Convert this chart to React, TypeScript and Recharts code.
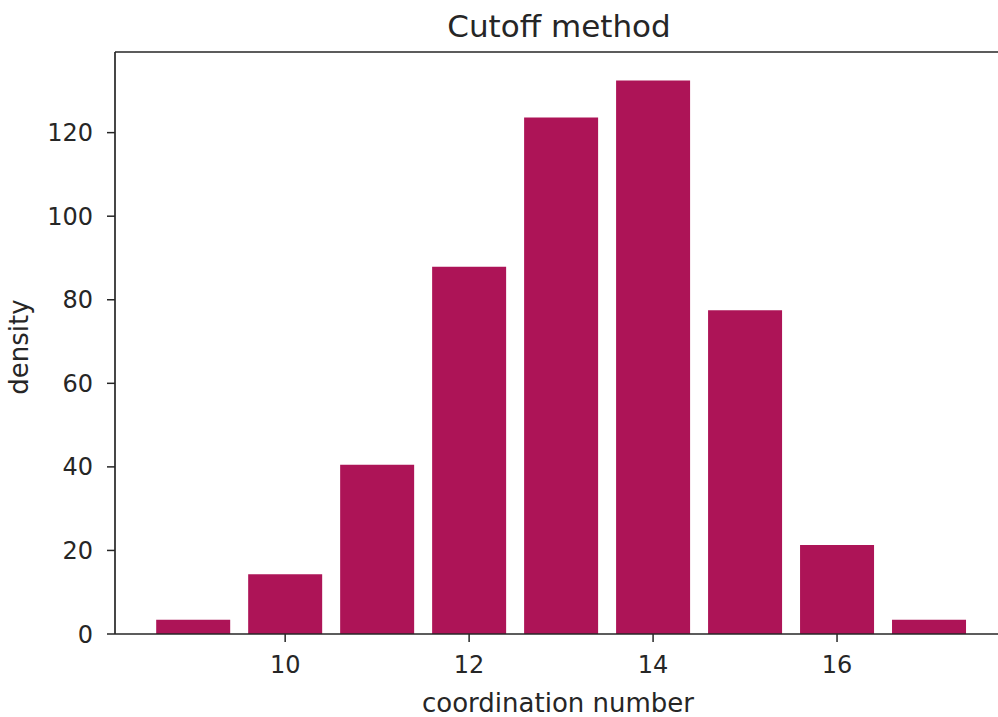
import { BarChart, Bar, XAxis, YAxis, ReferenceLine } from "recharts";

const coordination = [9, 10, 11, 12, 13, 14, 15, 16, 17];
const density = [3.4, 14.3, 40.5, 87.9, 123.6, 132.5, 77.5, 21.3, 3.4];
const xTicks = [10, 12, 14, 16];
const yTicks = [0, 20, 40, 60, 80, 100, 120];

const data = coordination.map((c, i) => ({ cn: c, density: density[i] }));

const FONT = "'DejaVu Sans', sans-serif";
const INK = "#262626";
const BAR = "#AD1457";
const Y_MAX = 139.3;

const App = () => {
  return (
    <div style={{ position: "fixed", top: 0, left: 0, width: 998, height: 717, background: "#fff" }}>
      <BarChart
        width={998}
        height={717}
        data={data}
        margin={{ top: 52, right: 0, left: 0, bottom: 0 }}
        style={{ fontFamily: FONT }}
      >
        <XAxis
          dataKey="cn"
          type="number"
          domain={[8.15, 17.75]}
          ticks={xTicks}
          allowDataOverflow
          height={83}
          stroke={INK}
          axisLine={{ stroke: INK, strokeWidth: 1.7 }}
          tickLine={{ stroke: INK, strokeWidth: 1.5 }}
          tickSize={8}
          tickMargin={14}
          tick={{ fill: INK, fontSize: 24, fontFamily: FONT }}
        />
        <YAxis
          type="number"
          domain={[0, Y_MAX]}
          ticks={yTicks}
          allowDataOverflow
          width={115}
          stroke={INK}
          axisLine={{ stroke: INK, strokeWidth: 1.7 }}
          tickLine={{ stroke: INK, strokeWidth: 1.5 }}
          tickSize={8}
          tickMargin={14}
          tick={{ fill: INK, fontSize: 24, fontFamily: FONT }}
        />
        {/* top spine */}
        <ReferenceLine y={Y_MAX} stroke={INK} strokeWidth={1.7} />
        <Bar dataKey="density" fill={BAR} barSize={74} isAnimationActive={false} />
        <text x={559} y={37} textAnchor="middle" fontSize={31} fill={INK} fontFamily={FONT}>
          Cutoff method
        </text>
        <text x={558} y={712} textAnchor="middle" fontSize={26} fill={INK} fontFamily={FONT}>
          coordination number
        </text>
        <text
          x={28}
          y={347}
          textAnchor="middle"
          fontSize={26}
          fill={INK}
          fontFamily={FONT}
          transform="rotate(-90 28 347)"
        >
          density
        </text>
      </BarChart>
    </div>
  );
};

export default App;
